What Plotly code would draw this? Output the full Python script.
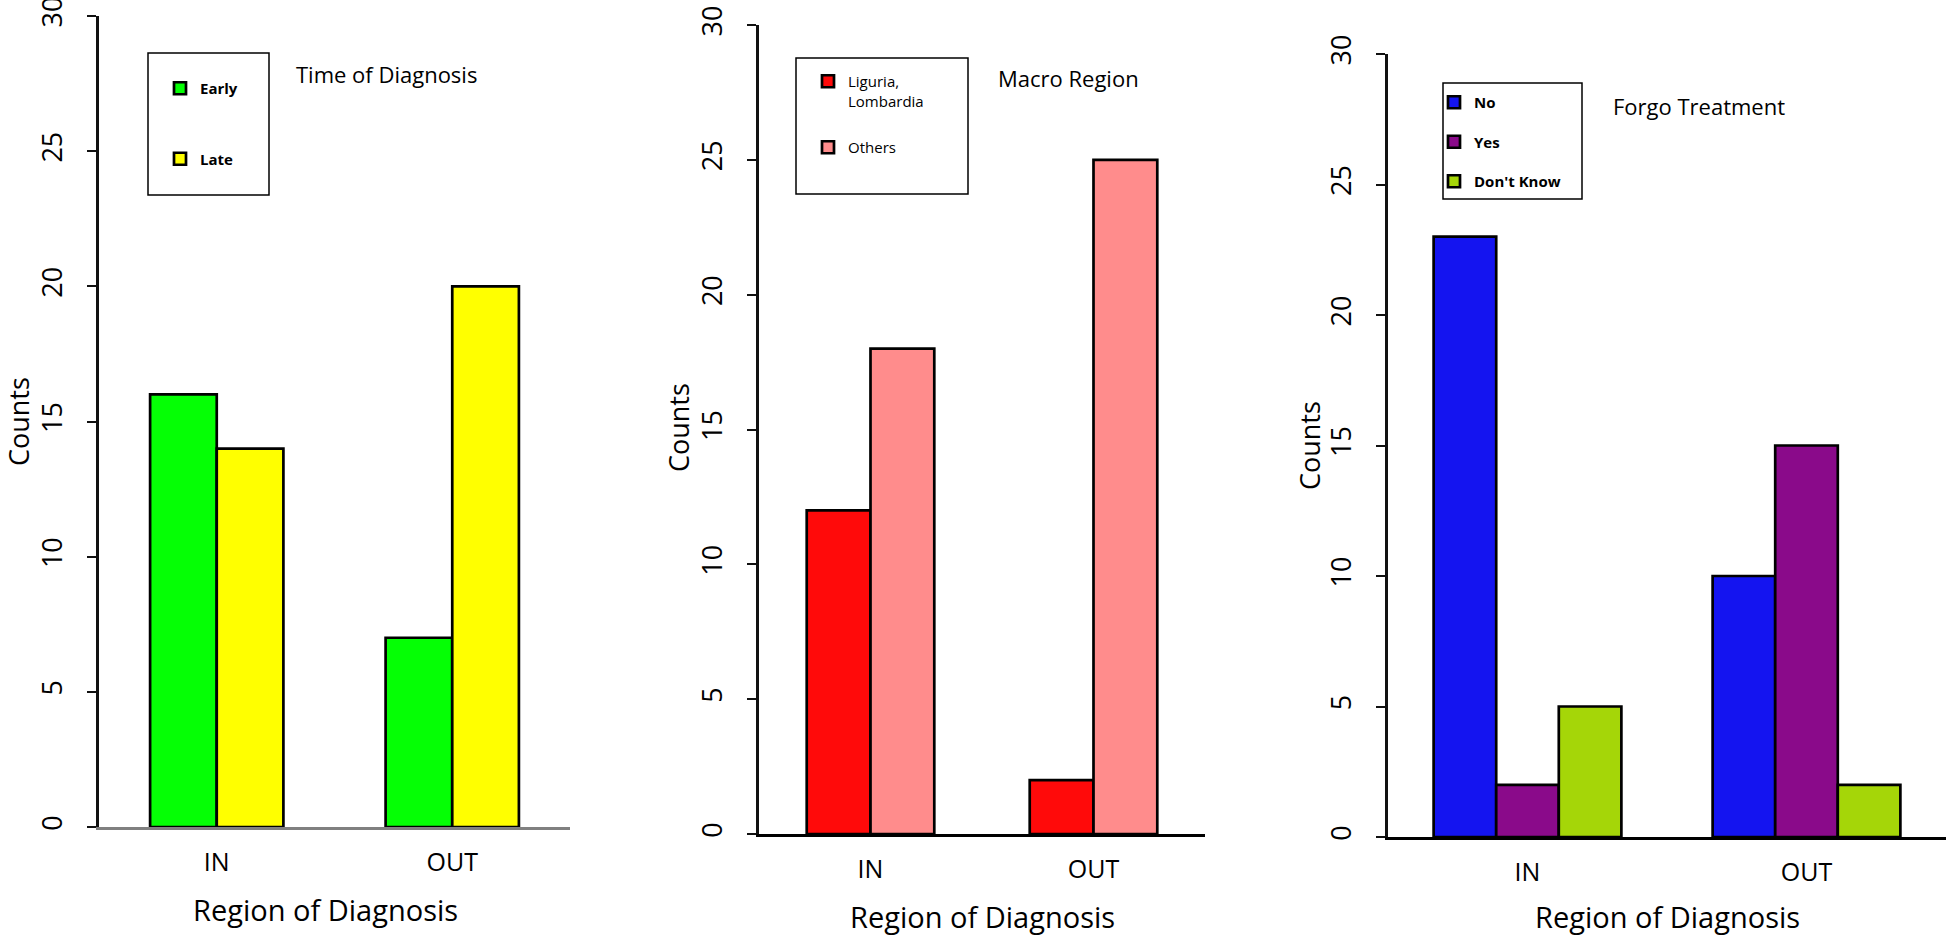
import plotly.graph_objects as go

W, H = 1946, 935

regions = ["IN", "OUT"]

# Panel 1: Time of Diagnosis
time_labels = ["Early", "Late"]
time_counts = {"Early": [16, 7], "Late": [14, 20]}
time_colors = {"Early": "#05FF05", "Late": "#FFFF00"}

# Panel 2: Macro Region
macro_labels = ["Liguria,<br>Lombardia", "Others"]
macro_counts = {"Liguria,<br>Lombardia": [12, 2], "Others": [18, 25]}
macro_colors = {"Liguria,<br>Lombardia": "#FF0A0A", "Others": "#FF8C8C"}

# Panel 3: Forgo Treatment
forgo_labels = ["No", "Yes", "Don't Know"]
forgo_counts = {"No": [23, 10], "Yes": [2, 15], "Don't Know": [5, 2]}
forgo_colors = {"No": "#1414F0", "Yes": "#8A0A8A", "Don't Know": "#A5D608"}

y_ticks = [0, 5, 10, 15, 20, 25, 30]

FONT = "Open Sans"

def px_x(p):
    return p / W

def px_y(p):
    return 1 - p / H

fig = go.Figure()

panels = [
    dict(labels=time_labels, counts=time_counts, colors=time_colors, xa="x", ya="y",
         legend="legend", xdom=(99, 570), ydom=(827, 16), groupw=0.566,
         base_color="#808080"),
    dict(labels=macro_labels, counts=macro_counts, colors=macro_colors, xa="x2", ya="y2",
         legend="legend2", xdom=(759, 1205), ydom=(834, 25), groupw=0.572,
         base_color="#000000"),
    dict(labels=forgo_labels, counts=forgo_counts, colors=forgo_colors, xa="x3", ya="y3",
         legend="legend3", xdom=(1388, 1946), ydom=(837, 54), groupw=0.673,
         base_color="#000000"),
]

for i, p in enumerate(panels):
    n = len(p["labels"])
    w = p["groupw"] / n
    for k, lab in enumerate(p["labels"]):
        fig.add_trace(go.Bar(
            x=regions, y=p["counts"][lab], name=lab,
            width=w, offset=-p["groupw"] / 2 + k * w,
            marker=dict(color=p["colors"][lab], line=dict(color="black", width=2.7)),
            xaxis=p["xa"], yaxis=p["ya"], legend=p["legend"],
            legendgroup=f"g{i}_{k}",
        ))

layout = dict(
    template="none",
    width=W, height=H,
    margin=dict(l=0, r=0, t=0, b=0, pad=0, autoexpand=False),
    paper_bgcolor="white", plot_bgcolor="white",
    barmode="group",
    font=dict(family=FONT, color="black"),
    showlegend=True,
)

for i, p in enumerate(panels):
    suf = "" if i == 0 else str(i + 1)
    layout["xaxis" + suf] = dict(
        domain=[px_x(p["xdom"][0]), px_x(p["xdom"][1])],
        anchor="y" + suf, type="category", range=[-0.5, 1.5],
        showline=True, linecolor=p["base_color"], linewidth=3,
        ticks="", showgrid=False, zeroline=False, automargin=False,
        tickfont=dict(family=FONT, size=25, color="black"),
        ticklabelstandoff=11, ticklabeloverflow="allow",
    )
    layout["yaxis" + suf] = dict(
        domain=[px_y(p["ydom"][0]), px_y(p["ydom"][1])],
        anchor="x" + suf, range=[0, 30],
        tickvals=y_ticks, ticktext=[str(v) for v in y_ticks],
        showline=True, linecolor="#111111", linewidth=3,
        ticks="outside", ticklen=9, tickwidth=2, tickcolor="#111111",
        tickangle=-90, showgrid=False, zeroline=False, automargin=False,
        tickfont=dict(family=FONT, size=27, color="black"),
        ticklabelstandoff=14, ticklabeloverflow="allow",
    )

fig.update_layout(**layout)

legend_common = dict(
    xanchor="left", yanchor="top", bgcolor="rgba(0,0,0,0)", borderwidth=0,
    traceorder="grouped", valign="top",
)
fig.update_layout(
    legend=dict(x=px_x(160), y=px_y(72), tracegroupgap=48,
                font=dict(family=FONT, size=15, weight="bold"), **legend_common),
    legend2=dict(x=px_x(808), y=px_y(65), tracegroupgap=24,
                 font=dict(family=FONT, size=15), **legend_common),
    legend3=dict(x=px_x(1434), y=px_y(86), tracegroupgap=17,
                 font=dict(family=FONT, size=15, weight="bold"), **legend_common),
)

boxes = [(148, 53, 269, 195), (796, 58, 968, 194), (1443, 83, 1582, 199)]
shapes = []
for x0, y0, x1, y1 in boxes:
    shapes.append(dict(type="rect", xref="paper", yref="paper",
                       x0=px_x(x0), x1=px_x(x1), y0=px_y(y0), y1=px_y(y1),
                       line=dict(color="black", width=1.5), fillcolor="rgba(0,0,0,0)"))
fig.update_layout(shapes=shapes)

annotations = []
titles = [("Time of Diagnosis", 386, 74), ("Macro Region", 1068, 78), ("Forgo Treatment", 1699, 106)]
for t, x, y in titles:
    annotations.append(dict(text=t, x=px_x(x), y=px_y(y), xref="paper", yref="paper",
                            xanchor="center", yanchor="middle", showarrow=False,
                            font=dict(family=FONT, size=22, color="black")))
for x, y in [(18, 422), (678, 428), (1309, 446)]:
    annotations.append(dict(text="Counts", x=px_x(x), y=px_y(y), xref="paper", yref="paper",
                            xanchor="center", yanchor="middle", showarrow=False, textangle=-90,
                            font=dict(family=FONT, size=27, color="black")))
for x, y in [(325, 909), (983, 916), (1667, 916)]:
    annotations.append(dict(text="Region of Diagnosis", x=px_x(x), y=px_y(y), xref="paper", yref="paper",
                            xanchor="center", yanchor="middle", showarrow=False,
                            font=dict(family=FONT, size=29, color="black")))
fig.update_layout(annotations=annotations)

fig.write_html(
    "out.html",
    config={"displayModeBar": False},
    post_script="document.body.style.margin='0px';document.body.style.overflow='hidden';",
)
